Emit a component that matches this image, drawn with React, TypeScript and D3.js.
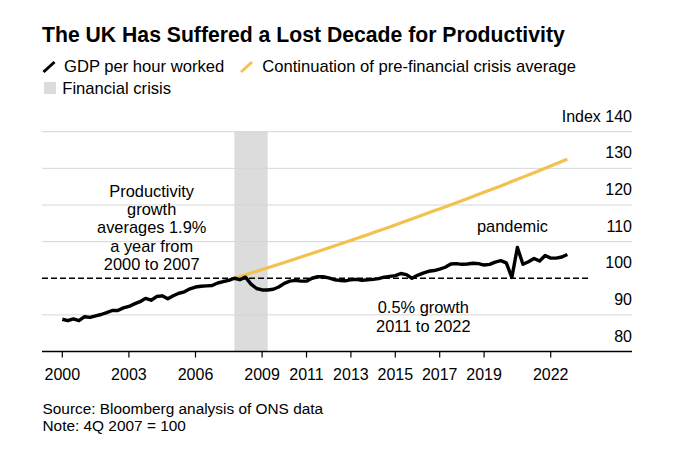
import React from "react";
import * as d3 from "d3";

// ---- data ----
const startYear = 2000; // first quarter: 2000 Q1
const gdpPerHour = [
  88.8, 88.4, 88.9, 88.4, 89.5, 89.3, 89.7, 90.1, 90.6, 91.2, 91.2, 91.9,
  92.3, 93.0, 93.6, 94.5, 94.0, 95.0, 95.2, 94.4, 95.2, 95.9, 96.3, 97.1,
  97.6, 97.8, 97.9, 98.0, 98.7, 99.1, 99.4, 100.0, 99.6, 100.3, 98.4, 97.2,
  96.8, 96.8, 97.0, 97.6, 98.6, 99.2, 99.4, 99.2, 99.2, 100.0, 100.4, 100.4,
  100.1, 99.6, 99.4, 99.3, 99.6, 99.7, 99.4, 99.6, 99.7, 99.9, 100.3, 100.5,
  100.7, 101.3, 101.0, 100.0, 100.8, 101.4, 101.9, 102.1, 102.5, 103.0, 103.9, 104.0,
  103.8, 103.9, 104.1, 104.0, 103.6, 103.8, 104.4, 104.8, 104.2, 100.2, 108.4, 103.8,
  104.5, 105.4, 104.7, 106.2, 105.5, 105.5, 105.8, 106.5,
];
const trendYears = [
  2007.75, 2008.75, 2009.75, 2010.75, 2011.75, 2012.75, 2013.75, 2014.75,
  2015.75, 2016.75, 2017.75, 2018.75, 2019.75, 2020.75, 2021.75, 2022.75,
];
const trendValues = [
  100, 101.9, 103.8, 105.8, 107.8, 109.8, 111.9, 114.0, 116.2, 118.4, 120.6,
  122.9, 125.2, 127.6, 130.0, 132.5,
];
const crisis = [2007.75, 2009.25];
const xTicks = [2000, 2003, 2006, 2009, 2011, 2013, 2015, 2017, 2019, 2022];
const yTicks = [80, 90, 100, 110, 120, 130, 140];
const baseline = 100;

const FONT = "'Liberation Sans', Arial, Helvetica, sans-serif";
const YELLOW = "#F2C14E";
const GREY = "#dcdcdc";

export default function App() {
  const left = 42;
  const right = 632;
  const x = d3
    .scaleLinear()
    .domain([2000, 2022])
    .range([62.3, 550.7]);
  const y = d3.scaleLinear().domain([80, 140]).range([351.5, 131.7]);

  const quarters = gdpPerHour.map((_, i) => startYear + i / 4);
  const line = d3
    .line<number>()
    .x((_, i) => x(quarters[i]))
    .y((d) => y(d));
  const trendLine = d3
    .line<number>()
    .x((_, i) => x(trendYears[i]))
    .y((d) => y(d))
    .curve(d3.curveMonotoneX);

  const textStyle = { fontFamily: FONT, fill: "#000" } as const;

  return (
    <svg
      width={680}
      height={453}
      style={{ position: "absolute", left: 0, top: 0, background: "#fff" }}
    >
      <rect width={680} height={453} fill="#fff" />
      {/* title */}
      <text x={42} y={41.7} fontSize={21.2} fontWeight="bold" {...textStyle}>
        The UK Has Suffered a Lost Decade for Productivity
      </text>
      {/* legend */}
      <line x1={43.5} y1={72} x2={54.5} y2={62} stroke="#000" strokeWidth={3} />
      <text x={64} y={72.3} fontSize={16.6} {...textStyle}>
        GDP per hour worked
      </text>
      <line x1={241} y1={72} x2={252} y2={62} stroke={YELLOW} strokeWidth={3} />
      <text x={262.3} y={72.3} fontSize={16.6} {...textStyle}>
        Continuation of pre-financial crisis average
      </text>
      <rect x={44} y={82} width={12} height={12} fill={GREY} />
      <text x={62.3} y={94} fontSize={16.6} {...textStyle}>
        Financial crisis
      </text>

      {/* crisis shading */}
      <rect
        x={x(crisis[0])}
        y={y(140)}
        width={x(crisis[1]) - x(crisis[0])}
        height={y(80) - y(140)}
        fill={GREY}
      />

      {/* gridlines */}
      {yTicks
        .filter((t) => t !== 80 && t !== baseline)
        .map((t) => (
          <line
            key={t}
            x1={left}
            x2={right}
            y1={y(t)}
            y2={y(t)}
            stroke="#d6d6d6"
            strokeWidth={1}
          />
        ))}
      {/* y labels */}
      {yTicks.map((t) => (
        <text
          key={t}
          x={right}
          y={y(t) - 10}
          fontSize={16}
          textAnchor="end"
          {...textStyle}
        >
          {t === 140 ? `Index ${t}` : t}
        </text>
      ))}

      {/* baseline dashed */}
      <line
        x1={left}
        x2={590}
        y1={y(baseline)}
        y2={y(baseline)}
        stroke="#000"
        strokeWidth={1.6}
        strokeDasharray="6,3"
      />

      {/* trend */}
      <path
        d={trendLine(trendValues) || ""}
        fill="none"
        stroke={YELLOW}
        strokeWidth={3.2}
      />
      {/* gdp per hour */}
      <path
        d={line(gdpPerHour) || ""}
        fill="none"
        stroke="#000"
        strokeWidth={3.4}
        strokeLinejoin="round"
      />

      {/* x axis */}
      <line x1={left} x2={right} y1={y(80)} y2={y(80)} stroke="#000" strokeWidth={1.5} />
      {xTicks.map((t) => (
        <g key={t} transform={`translate(${x(t)},0)`}>
          <line y1={y(80)} y2={y(80) + 6} stroke="#000" strokeWidth={1.2} />
          <text y={380} fontSize={16} textAnchor="middle" {...textStyle}>
            {t}
          </text>
        </g>
      ))}

      {/* annotations */}
      <text fontSize={16.4} textAnchor="middle" {...textStyle}>
        {["Productivity", "growth", "averages 1.9%", "a year from", "2000 to 2007"].map(
          (s, i) => (
            <tspan key={i} x={151.7} y={196.7 + i * 18.3}>
              {s}
            </tspan>
          )
        )}
      </text>
      <text fontSize={16.4} textAnchor="middle" {...textStyle}>
        {["0.5% growth", "2011 to 2022"].map((s, i) => (
          <tspan key={i} x={423.3} y={313.3 + i * 18.3}>
            {s}
          </tspan>
        ))}
      </text>
      <text x={512.5} y={231.7} fontSize={16.4} textAnchor="middle" {...textStyle}>
        pandemic
      </text>

      {/* footer */}
      <text x={42.5} y={414} fontSize={15.4} {...textStyle}>
        Source: Bloomberg analysis of ONS data
      </text>
      <text x={42.5} y={430.7} fontSize={15.4} {...textStyle}>
        Note: 4Q 2007 = 100
      </text>
    </svg>
  );
}
